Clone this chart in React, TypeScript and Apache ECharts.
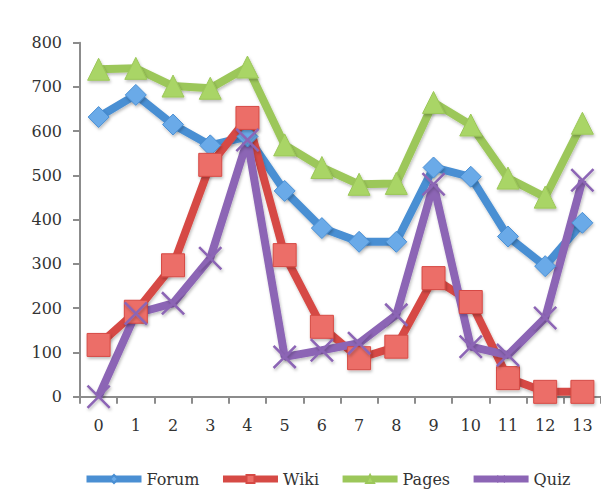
import React, { useEffect, useRef } from "react";
import * as echarts from "echarts";

const categories = ["0", "1", "2", "3", "4", "5", "6", "7", "8", "9", "10", "11", "12", "13"];
const forum = [632, 682, 615, 568, 588, 465, 381, 350, 350, 518, 497, 362, 295, 393];
const wiki = [117, 192, 297, 524, 630, 320, 158, 87, 113, 268, 214, 42, 11, 11];
const pages = [740, 742, 702, 697, 745, 569, 518, 480, 482, 665, 614, 494, 451, 618];
const quiz = [0, 188, 211, 313, 580, 90, 105, 121, 185, 480, 113, 94, 178, 489];
const seriesNames = ["Forum", "Wiki", "Pages", "Quiz"];

const FONT = "DejaVu Serif";
const X_PATH =
  "path://M0,1.5 L1.5,0 L10,8.5 L18.5,0 L20,1.5 L11.5,10 L20,18.5 L18.5,20 L10,11.5 L1.5,20 L0,18.5 L8.5,10 Z";

export default function App() {
  const ref = useRef<HTMLDivElement>(null);
  useEffect(() => {
    if (!ref.current) return;
    const chart = echarts.init(ref.current, undefined, { renderer: "svg" });
    const shadow = {
      shadowBlur: 3,
      shadowColor: "rgba(0,0,0,0.25)",
      shadowOffsetX: 1,
      shadowOffsetY: 2,
    };
    const mk = (
      name: string,
      data: number[],
      color: string,
      fill: string,
      symbol: string,
      size: number
    ) => ({
      name,
      type: "line",
      data,
      symbol,
      symbolSize: size,
      lineStyle: { width: 8, color, ...shadow },
      itemStyle: {
        color: fill,
        borderColor: color,
        borderWidth: symbol === X_PATH ? 0 : 1,
        ...shadow,
      },
      emphasis: { disabled: true },
    });
    chart.setOption({
      animation: false,
      backgroundColor: "#ffffff",
      grid: { left: 80, top: 42.7, bottom: 93.3, right: -6.7, containLabel: false },
      legend: {
        left: 78,
        top: 466,
        itemWidth: 55,
        itemHeight: 10,
        itemGap: 20,
        data: seriesNames,
        lineStyle: { width: 7 },
        textStyle: { fontFamily: FONT, fontSize: 16, color: "#333" },
      },
      xAxis: {
        type: "category",
        data: categories,
        boundaryGap: true,
        axisLine: { lineStyle: { color: "#8c8c8c", width: 2 } },
        axisTick: { show: true, interval: 0, length: 7, lineStyle: { color: "#8c8c8c", width: 2 } },
        axisLabel: { margin: 21, fontFamily: FONT, fontSize: 16, color: "#333", interval: 0 },
        splitLine: { show: false },
      },
      yAxis: {
        type: "value",
        min: 0,
        max: 800,
        interval: 100,
        axisLine: { show: true, lineStyle: { color: "#8c8c8c", width: 2 } },
        axisTick: { show: true, length: 7, lineStyle: { color: "#8c8c8c", width: 2 } },
        axisLabel: { margin: 18, fontFamily: FONT, fontSize: 16, color: "#333" },
        splitLine: { show: false },
      },
      series: [
        mk(seriesNames[0], forum, "#4a8fd3", "#6aaae8", "diamond", 21),
        mk(seriesNames[1], wiki, "#d64a45", "#ec6e67", "rect", 23),
        mk(seriesNames[2], pages, "#9cc75a", "#a9d566", "triangle", 22),
        mk(seriesNames[3], quiz, "#8c65b5", "#8c65b5", X_PATH, 24),
      ],
    });
    return () => chart.dispose();
  }, []);
  return (
    <div
      ref={ref}
      style={{ position: "fixed", left: 0, top: 0, width: 601, height: 490, background: "#fff" }}
    />
  );
}
